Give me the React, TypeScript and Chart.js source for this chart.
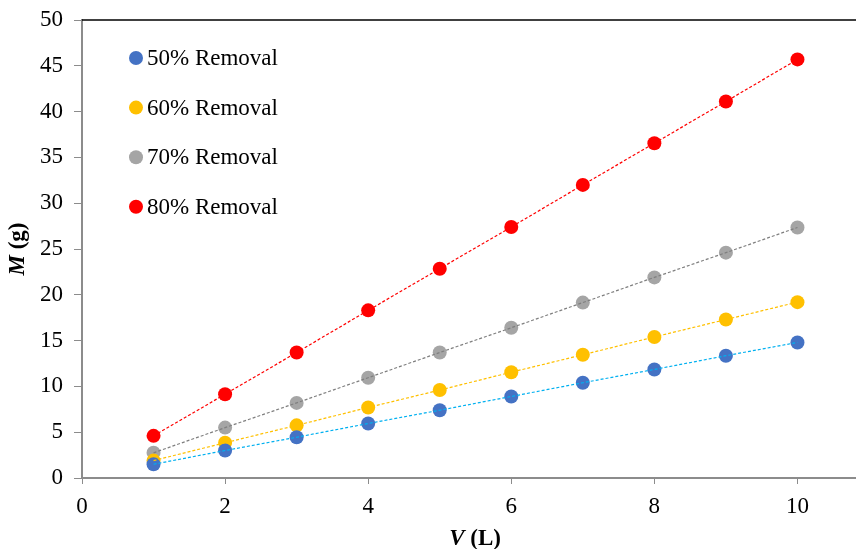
import React, { useEffect, useRef } from "react";
import { Chart, registerables } from "chart.js";

Chart.register(...registerables);

const volumes = [1, 2, 3, 4, 5, 6, 7, 8, 9, 10];
const removal50 = [1.5, 3.0, 4.45, 5.95, 7.4, 8.9, 10.4, 11.85, 13.35, 14.8];
const removal60 = [1.9, 3.85, 5.75, 7.7, 9.6, 11.55, 13.45, 15.4, 17.3, 19.2];
const removal70 = [2.75, 5.5, 8.2, 10.95, 13.7, 16.4, 19.15, 21.9, 24.6, 27.35];
const removal80 = [4.6, 9.15, 13.7, 18.3, 22.85, 27.4, 32.0, 36.55, 41.1, 45.7];
const seriesLabels = ["50% Removal", "60% Removal", "70% Removal", "80% Removal"];
const xTickValues = [0, 2, 4, 6, 8, 10];
const yTickValues = [0, 5, 10, 15, 20, 25, 30, 35, 40, 45, 50];

const markerColors = ["#4472C4", "#FFC000", "#A5A5A5", "#FF0000"];
const trendColors = ["#00B0F0", "#FFC000", "#7F7F7F", "#FF0000"];
const FONT = "'Liberation Serif', 'Times New Roman', serif";
const FS = 23;

export default function App() {
  const ref = useRef<HTMLCanvasElement | null>(null);

  useEffect(() => {
    const canvas = ref.current;
    if (!canvas) return;
    const series = [removal50, removal60, removal70, removal80];
    const pointSets = series.map((s, i) => ({
      label: seriesLabels[i],
      data: volumes.map((v, j) => ({ x: v, y: s[j] })),
      showLine: false,
      pointRadius: 7,
      pointHoverRadius: 7,
      pointBackgroundColor: markerColors[i],
      pointBorderWidth: 0,
      borderColor: markerColors[i],
      backgroundColor: markerColors[i],
      order: 2,
    }));
    const lineSets = series.map((s, i) => ({
      label: seriesLabels[i] + " trend",
      data: volumes.map((v, j) => ({ x: v, y: s[j] })),
      showLine: true,
      pointRadius: 0,
      borderColor: trendColors[i],
      borderWidth: 1.2,
      borderDash: [3, 2],
      fill: false,
      order: 1,
    }));

    const decor = {
      id: "decor",
      afterDraw(chart: any) {
        const { ctx, chartArea } = chart;
        ctx.save();
        ctx.strokeStyle = "#000";
        ctx.lineWidth = 1.5;
        ctx.beginPath();
        ctx.moveTo(chartArea.left, chartArea.top);
        ctx.lineTo(chartArea.right, chartArea.top);
        ctx.stroke();
        ctx.font = `${FS}px ${FONT}`;
        ctx.textBaseline = "middle";
        ctx.textAlign = "left";
        seriesLabels.forEach((lab, i) => {
          const y = chartArea.top + 38 + i * 49.6;
          const x = chartArea.left + 54;
          ctx.fillStyle = markerColors[i];
          ctx.beginPath();
          ctx.arc(x, y, 7, 0, Math.PI * 2);
          ctx.fill();
          ctx.fillStyle = "#000";
          ctx.fillText(lab, x + 11, y + 1);
        });
        const drawTitle = (a: string, b: string, cx: number, cy: number, rot: number) => {
          ctx.save();
          ctx.translate(cx, cy);
          ctx.rotate(rot);
          ctx.fillStyle = "#000";
          ctx.textBaseline = "middle";
          ctx.textAlign = "left";
          ctx.font = `italic bold ${FS}px ${FONT}`;
          const wa = ctx.measureText(a).width;
          ctx.font = `bold ${FS}px ${FONT}`;
          const wb = ctx.measureText(b).width;
          const start = -(wa + wb) / 2;
          ctx.font = `italic bold ${FS}px ${FONT}`;
          ctx.fillText(a, start, 0);
          ctx.font = `bold ${FS}px ${FONT}`;
          ctx.fillText(b, start + wa, 0);
          ctx.restore();
        };
        drawTitle("M", " (g)", 18, (chartArea.top + chartArea.bottom) / 2, -Math.PI / 2);
        drawTitle("V", " (L)", 475, 539, 0);
        ctx.restore();
      },
    };

    const chart = new Chart(canvas, {
      type: "scatter",
      data: { datasets: [...pointSets, ...lineSets] as any },
      options: {
        animation: false,
        responsive: false,
        layout: { padding: { top: 20, right: 0, left: 0, bottom: 0 } },
        plugins: { legend: { display: false }, tooltip: { enabled: false } },
        scales: {
          x: {
            type: "linear",
            min: 0,
            max: 11,
            afterBuildTicks: (s: any) => {
              s.ticks = xTickValues.map((v) => ({ value: v }));
            },
            afterFit: (s: any) => {
              s.height = 71;
            },
            ticks: { color: "#000", font: { family: FONT, size: FS }, padding: 9, maxRotation: 0 },
            grid: { drawOnChartArea: false, drawTicks: true, tickLength: 6, color: "#8C8C8C", lineWidth: 1 },
            border: { color: "#8C8C8C", width: 2 },
          },
          y: {
            type: "linear",
            min: 0,
            max: 50,
            afterBuildTicks: (s: any) => {
              s.ticks = yTickValues.map((v) => ({ value: v }));
            },
            afterFit: (s: any) => {
              s.width = 82;
              s.paddingTop = 0;
              s.paddingBottom = 0;
            },
            ticks: { color: "#000", font: { family: FONT, size: FS }, padding: 11 },
            grid: { drawOnChartArea: false, drawTicks: true, tickLength: 8, color: "#8C8C8C", lineWidth: 1 },
            border: { color: "#8C8C8C", width: 2 },
          },
        },
      },
      plugins: [decor],
    } as any);
    return () => chart.destroy();
  }, []);

  return (
    <div style={{ position: "absolute", left: 0, top: 0, width: 856, height: 549, overflow: "hidden", background: "#fff" }}>
      <canvas ref={ref} width={876} height={549} style={{ display: "block", width: 876, height: 549 }} />
    </div>
  );
}
